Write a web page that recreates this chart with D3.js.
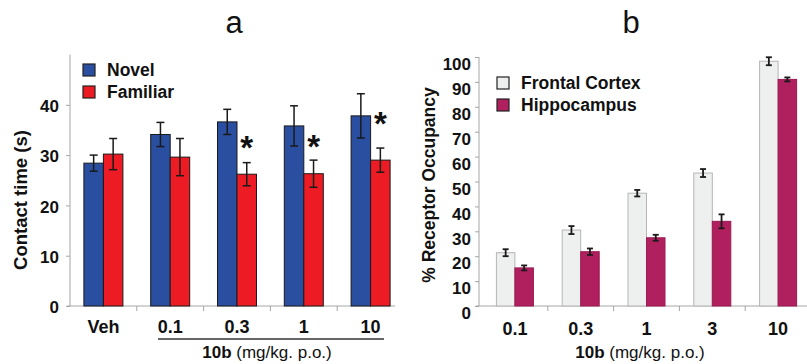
<!DOCTYPE html>
<html>
<head>
<meta charset="utf-8">
<script src="https://cdn.jsdelivr.net/npm/d3@7"></script>
<style>
  body { margin: 0; background: #fff; }
  svg { display: block; font-family: Arial, "Liberation Sans", sans-serif; }
</style>
</head>
<body>
<svg id="chart" width="807" height="364"></svg>
<script>
// panel a
const catsA = ['Veh', '0.1', '0.3', '1', '10']
const novel = [28.4, 34.1, 36.6, 35.8, 37.8]
const novelErr = [1.6, 2.4, 2.5, 4.0, 4.4]
const familiar = [30.2, 29.6, 26.2, 26.3, 29.0]
const familiarErr = [3.1, 3.7, 2.3, 2.7, 2.4]
const starCats = ['0.3', '1', '10']
const starAt = [32.8, 33.0, 37.5]
const ticksA = [0, 10, 20, 30, 40]

// panel b
const catsB = ['0.1', '0.3', '1', '3', '10']
const frontal = [21.4, 30.5, 45.3, 53.4, 98.3]
const frontalErr = [1.4, 1.6, 1.3, 1.6, 1.6]
const hippo = [15.3, 21.8, 27.4, 34.0, 91.0]
const hippoErr = [1.0, 1.3, 1.2, 2.8, 0.8]
const ticksB = [0, 10, 20, 30, 40, 50, 60, 70, 80, 90, 100]

const svg = d3.select('#chart')
const axisGray = '#a6a6a6'

const drawPanel = cfg => {
  const g = svg.append('g')
  const x = d3.scaleBand().domain(cfg.cats).range(cfg.xRange)
  const y = d3.scaleLinear().domain(cfg.yDomain).range(cfg.yRange)
  const bw = cfg.barW

  // y axis
  const yAxis = g.append('g')
    .attr('transform', `translate(${cfg.xRange[0] - cfg.yShift},0)`)
    .call(d3.axisLeft(y).tickValues(cfg.yTicks).tickSize(4).tickPadding(cfg.tickPad))
  yAxis.select('.domain').remove()
  yAxis.selectAll('line').attr('stroke', axisGray)
  yAxis.selectAll('text')
    .attr('font-size', cfg.tickFont)
    .attr('font-weight', 'bold')
    .attr('fill', '#111')
    .attr('dy', cfg.labelDy)
  g.append('line')
    .attr('x1', cfg.xRange[0] - cfg.yShift).attr('x2', cfg.xRange[0] - cfg.yShift)
    .attr('y1', y(cfg.yDomain[1])).attr('y2', y(0))
    .attr('stroke', axisGray)

  // x axis
  g.append('line')
    .attr('x1', cfg.xRange[0] - cfg.yShift - 3).attr('x2', cfg.axisEnd)
    .attr('y1', y(0)).attr('y2', y(0))
    .attr('stroke', axisGray)
  g.selectAll('.xtick').data(cfg.cats.slice(1)).enter().append('line')
    .attr('x1', d => x(d)).attr('x2', d => x(d))
    .attr('y1', y(0)).attr('y2', y(0) + 5)
    .attr('stroke', axisGray)
  g.selectAll('.xlab').data(cfg.cats).enter().append('text')
    .attr('x', d => x(d) + x.bandwidth() / 2)
    .attr('y', cfg.xLabelY)
    .attr('text-anchor', 'middle')
    .attr('font-size', 18)
    .attr('font-weight', 'bold')
    .attr('fill', '#111')
    .text(d => d)

  // bars
  cfg.series.forEach((s, si) => {
    const off = si === 0 ? -bw : 0
    g.selectAll(null).data(s.values).enter().append('rect')
      .attr('x', (d, i) => x(cfg.cats[i]) + x.bandwidth() / 2 + off)
      .attr('y', d => y(d))
      .attr('width', bw)
      .attr('height', d => y(0) - y(d))
      .attr('fill', s.color)
      .attr('stroke', s.stroke)
      .attr('stroke-width', 1)
    const eg = g.selectAll(null).data(s.values).enter().append('g')
      .attr('stroke', '#1a1a1a')
      .attr('stroke-width', cfg.errW)
    const cx = i => x(cfg.cats[i]) + x.bandwidth() / 2 + off + bw / 2
    eg.append('line')
      .attr('x1', (d, i) => cx(i)).attr('x2', (d, i) => cx(i))
      .attr('y1', (d, i) => y(d + s.err[i])).attr('y2', (d, i) => y(d - s.err[i]))
    eg.append('line')
      .attr('x1', (d, i) => cx(i) - cfg.cap).attr('x2', (d, i) => cx(i) + cfg.cap)
      .attr('y1', (d, i) => y(d + s.err[i])).attr('y2', (d, i) => y(d + s.err[i]))
    eg.append('line')
      .attr('x1', (d, i) => cx(i) - cfg.cap).attr('x2', (d, i) => cx(i) + cfg.cap)
      .attr('y1', (d, i) => y(d - s.err[i])).attr('y2', (d, i) => y(d - s.err[i]))
  })

  // legend
  cfg.series.forEach((s, si) => {
    const ly = cfg.legendY + si * 22
    g.append('rect')
      .attr('x', cfg.legendX).attr('y', ly - 12)
      .attr('width', 12).attr('height', 12)
      .attr('fill', s.color).attr('stroke', '#222').attr('stroke-width', 1.2)
    g.append('text')
      .attr('x', cfg.legendX + 24).attr('y', ly)
      .attr('font-size', 17.5).attr('font-weight', 'bold').attr('fill', '#111')
      .text(s.name)
  })

  // titles
  g.append('text')
    .attr('x', cfg.titleX).attr('y', 33)
    .attr('text-anchor', 'middle').attr('font-size', 31).attr('fill', '#111')
    .text(cfg.title)
  g.append('text')
    .attr('transform', `translate(${cfg.yLabelX},${cfg.yLabelY}) rotate(-90)`)
    .attr('text-anchor', 'middle')
    .attr('font-size', cfg.yLabelFont).attr('font-weight', 'bold').attr('fill', '#111')
    .text(cfg.yLabel)
  const xl = g.append('text')
    .attr('x', cfg.xTitleX).attr('y', cfg.xTitleY)
    .attr('text-anchor', 'middle').attr('font-size', 17).attr('fill', '#111')
  xl.append('tspan').attr('font-weight', 'bold').text('10b')
  xl.append('tspan').text(' (mg/kg. p.o.)')

  return { g, x, y }
}

const a = drawPanel({
  cats: catsA, xRange: [70, 404], yDomain: [0, 50], yRange: [306, 54.5], yShift: 0,
  yTicks: ticksA, tickFont: 17, tickPad: 7, labelDy: '0.4em', barW: 19.5, errW: 1.5, cap: 4,
  axisEnd: 395, xLabelY: 333,
  series: [
    { name: 'Novel', values: novel, err: novelErr, color: '#2a4fa1', stroke: '#1a1a1a' },
    { name: 'Familiar', values: familiar, err: familiarErr, color: '#ed1c24', stroke: '#1a1a1a' }
  ],
  legendX: 83, legendY: 76,
  title: 'a', titleX: 234,
  yLabel: 'Contact time (s)', yLabelX: 27, yLabelY: 200, yLabelFont: 18.5,
  xTitleX: 267, xTitleY: 358
})

// underline under the dose groups
a.g.append('line')
  .attr('x1', 158).attr('x2', 384)
  .attr('y1', 339).attr('y2', 339)
  .attr('stroke', '#333').attr('stroke-width', 1.5)

// significance stars
a.g.selectAll('.star').data(starCats).enter().append('text')
  .attr('x', d => a.x(d) + a.x.bandwidth() / 2 + 19.5 / 2)
  .attr('y', (d, i) => a.y(starAt[i]) + 18)
  .attr('text-anchor', 'middle')
  .attr('font-size', 33).attr('font-weight', 'bold').attr('fill', '#111')
  .text('*')

drawPanel({
  cats: catsB, xRange: [482, 811], yDomain: [0, 100], yRange: [306, 57], yShift: 3,
  yTicks: ticksB, tickFont: 17, tickPad: 4, labelDy: '0.75em', barW: 18.5, errW: 1.8, cap: 3,
  axisEnd: 807, xLabelY: 335,
  series: [
    { name: 'Frontal Cortex', values: frontal, err: frontalErr, color: '#eef0ef', stroke: '#b5b5b5' },
    { name: 'Hippocampus', values: hippo, err: hippoErr, color: '#b01f5e', stroke: '#9a1a52' }
  ],
  legendX: 497, legendY: 89,
  title: 'b', titleX: 631,
  yLabel: '% Receptor Occupancy', yLabelX: 435, yLabelY: 185, yLabelFont: 17.5,
  xTitleX: 640, xTitleY: 358
})
</script>
</body>
</html>
